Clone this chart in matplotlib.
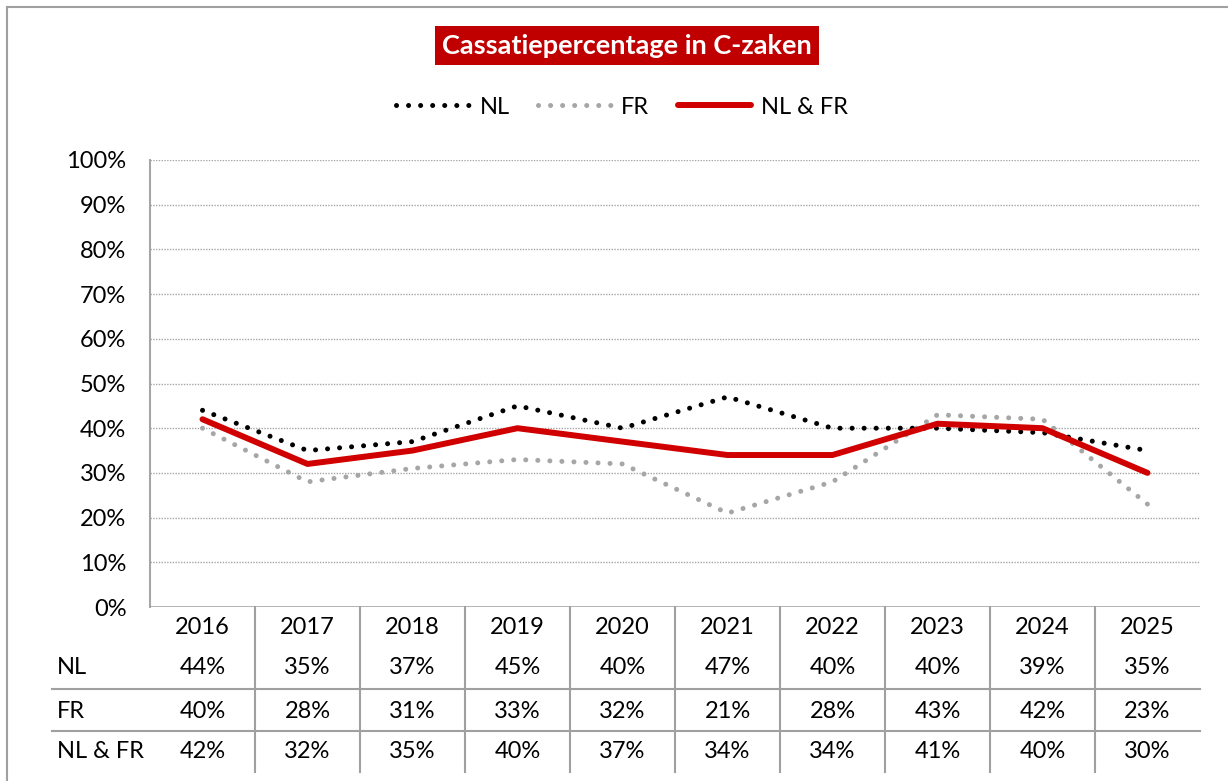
import matplotlib
matplotlib.use("Agg")
import matplotlib.pyplot as plt
from matplotlib.lines import Line2D

years = ["2016", "2017", "2018", "2019", "2020", "2021", "2022", "2023", "2024", "2025"]
nl = [44, 35, 37, 45, 40, 47, 40, 40, 39, 35]
fr = [40, 28, 31, 33, 32, 21, 28, 43, 42, 23]
nlfr = [42, 32, 35, 40, 37, 34, 34, 41, 40, 30]
series_names = ["NL", "FR", "NL & FR"]
yticks = [0, 10, 20, 30, 40, 50, 60, 70, 80, 90, 100]
title = "Cassatiepercentage in C-zaken"

W, H = 1228, 781
FONT = "Lato"
FS = 17
plt.rcParams["font.family"] = [FONT, "DejaVu Sans"]

fig = plt.figure(figsize=(W / 100, H / 100), dpi=100)

def px_axes(x0, y0, x1, y1):
    return fig.add_axes([x0 / W, 1 - y1 / H, (x1 - x0) / W, (y1 - y0) / H])

# outer frame (top and left edges visible)
fig.add_artist(Line2D([7 / W, 1], [1 - 7 / H, 1 - 7 / H], color="#A0A0A0", lw=1.5, transform=fig.transFigure))
fig.add_artist(Line2D([7 / W, 7 / W], [0, 1 - 7 / H], color="#A0A0A0", lw=1.5, transform=fig.transFigure))

X0, X1, YT, YB = 150, 1200, 160, 607
ax = px_axes(X0, YT, X1, YB)
x = list(range(len(years)))
ax.set_xlim(-0.5, len(years) - 0.5)
ax.set_ylim(0, 100)
for s in ["top", "right", "bottom"]:
    ax.spines[s].set_visible(False)
ax.spines["left"].set_color("#A6A6A6")
ax.spines["left"].set_linewidth(1.5)
ax.set_xticks([])
ax.set_yticks(yticks)
ax.set_yticklabels([f"{v}%" for v in yticks], fontsize=FS, color="#000000")
ax.tick_params(axis="y", length=0, pad=17)
for v in yticks[1:]:
    ax.axhline(v, color="#A6A6A6", lw=1.0, ls=(0, (1, 1)), zorder=1)
ax.axhline(0, color="#A6A6A6", lw=1.2, zorder=1)

dot = (0, (0.01, 2.4))
ax.plot(x, nl, color="#000000", lw=3.6, ls=dot, dash_capstyle="round", zorder=3, label="NL")
ax.plot(x, fr, color="#A6A6A6", lw=3.6, ls=dot, dash_capstyle="round", zorder=2, label="FR")
ax.plot(x, nlfr, color="#D00000", lw=4.3, solid_capstyle="round", solid_joinstyle="round", zorder=4, label="NL & FR")

# title box
fig.text(627 / W, 1 - 45.5 / H, title, ha="center", va="center", fontsize=19.5, fontweight="bold",
         color="white", bbox=dict(boxstyle="square,pad=0.28", fc="#C00000", ec="none"))

# legend
leg = fig.legend(loc="center", bbox_to_anchor=(622 / W, 1 - 107 / H), ncol=3, frameon=False,
                 fontsize=FS, handlelength=3.1, columnspacing=1.2, handletextpad=0.42)

# data table
tab = px_axes(X0, YB, X1, 775)
tab.set_xlim(-0.5, len(years) - 0.5)
tab.set_ylim(775, YB)
tab.axis("off")
grey = "#A0A0A0"
left_data = -0.5 - (X0 - 52) / 105.0
for yy in [689, 731]:
    tab.plot([left_data, len(years) - 0.5], [yy, yy], color=grey, lw=1.5, clip_on=False)
for k in range(1, len(years)):
    tab.plot([k - 0.5, k - 0.5], [YB, 772], color=grey, lw=1.5, clip_on=False)
row_y = [667, 711, 751]
for i, yr in enumerate(years):
    tab.text(i, 628, yr, ha="center", va="center", fontsize=FS)
for vals, ry in zip([nl, fr, nlfr], row_y):
    for i, v in enumerate(vals):
        tab.text(i, ry, f"{v}%", ha="center", va="center", fontsize=FS)
for name, ry in zip(series_names, row_y):
    tab.text(left_data + 5 / 105.0, ry, name, ha="left", va="center", fontsize=FS, clip_on=False)

fig.savefig("out.png", dpi=100)
